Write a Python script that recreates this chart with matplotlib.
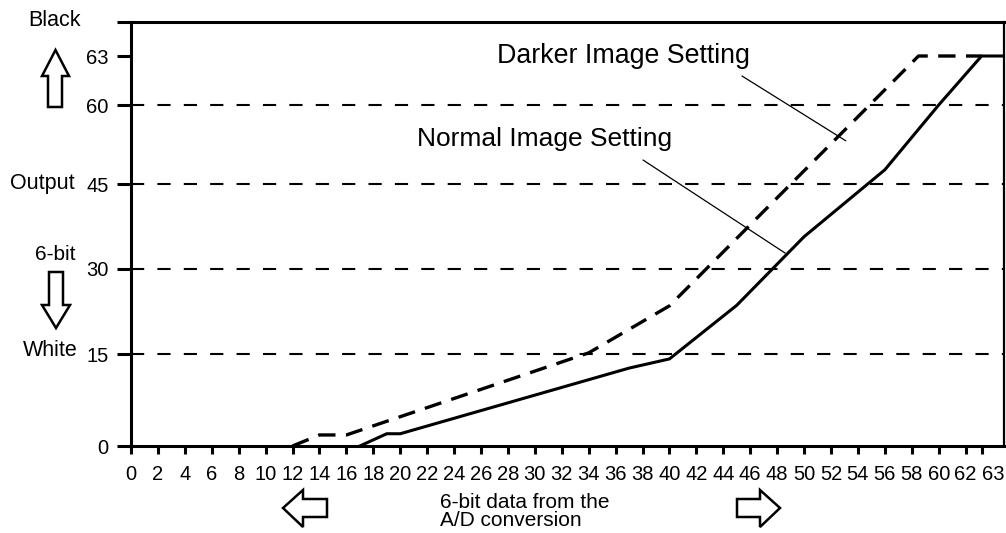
import matplotlib
matplotlib.use('Agg')
import matplotlib.pyplot as plt
import numpy as np
from matplotlib.patches import Polygon

plt.rcParams['font.family'] = ['Liberation Sans', 'DejaVu Sans']
plt.rcParams['lines.scale_dashes'] = False

# curve data (input code -> output code)
dark_x = [12, 14, 16, 34, 40, 58.5, 63]
dark_y = [0, 1.8, 1.8, 15.2, 23.5, 63, 63]
norm_x = [17, 19, 20, 37, 40, 45, 50, 56, 60, 63, 64.4]
norm_y = [0, 2, 2, 12.7, 14.2, 23.6, 35.7, 47.7, 60, 63, 63]

grid_levels = [15, 30, 45, 60]
x_ticks = list(range(0, 63, 2)) + [63]
y_ticks = [0, 15, 30, 45, 60, 63, 65.1]
y_labels = ['0', '15', '30', '45', '60', '63', '']

# the drawing is schematic: axes are piecewise linear
xv = [-100, 0, 62, 63, 100]
xs = [-1347, 0, 835, 851, 1443]
yv = [-100, 0, 15, 30, 45, 60, 63, 65.1, 100]
ys = [-613, 0, 92, 177, 262, 341, 390, 424, 983]

W, H = 1006, 533


def px(x, y):
    return x / W, 1 - y / H


fig = plt.figure(figsize=(W / 100, H / 100), dpi=100)
ax = fig.add_axes([131 / W, 87 / H, (1004 - 131) / W, 424 / H])
ax.set_xscale('function', functions=(lambda v: np.interp(v, xv, xs),
                                     lambda s: np.interp(s, xs, xv)))
ax.set_yscale('function', functions=(lambda v: np.interp(v, yv, ys),
                                     lambda s: np.interp(s, ys, yv)))
ax.set_xlim(0, 64.4)
ax.set_ylim(0, 65.1)

for lev in grid_levels:
    ax.axhline(lev, color='black', lw=1.5, dashes=(9.5, 9.5), zorder=1)

ax.plot(dark_x, dark_y, color='black', lw=2.4, dashes=(12.5, 7.5), zorder=3)
ax.plot(norm_x, norm_y, color='black', lw=2.2, zorder=3)

ax.set_xticks(x_ticks)
ax.set_xticklabels([str(t) for t in x_ticks])
ax.set_yticks(y_ticks)
ax.set_yticklabels(y_labels)
ax.xaxis.get_ticklabels()[-1].set_horizontalalignment('left')
ax.tick_params(axis='x', direction='out', length=6, width=2.2, pad=8,
               labelsize=14.5)
ax.tick_params(axis='y', direction='out', length=10, width=2.2, pad=6,
               labelsize=14.5)
for side in ['left', 'bottom', 'top']:
    ax.spines[side].set_linewidth(2.2)
ax.spines['right'].set_linewidth(1.6)

# pointer lines and labels
ax.annotate('', xy=(53.1, 53.2), xytext=px(742, 76),
            textcoords='figure fraction',
            arrowprops=dict(arrowstyle='-', lw=0.9, color='black',
                            shrinkA=0, shrinkB=0))
ax.annotate('', xy=(48.6, 32.8), xytext=px(643, 160),
            textcoords='figure fraction',
            arrowprops=dict(arrowstyle='-', lw=0.9, color='black',
                            shrinkA=0, shrinkB=0))
fig.text(*px(497, 63), 'Darker Image Setting', fontsize=19.3,
         ha='left', va='baseline')
fig.text(*px(417, 146), 'Normal Image Setting', fontsize=19,
         ha='left', va='baseline')

# side labels
fig.text(*px(54, 20), 'Black', fontsize=15.5, ha='center', va='center')
fig.text(*px(42, 183), 'Output', fontsize=15.5, ha='center', va='center')
fig.text(*px(55, 255), '6-bit', fontsize=15, ha='center', va='center')
fig.text(*px(50, 351), 'White', fontsize=15.5, ha='center', va='center')
fig.text(*px(440, 503), '6-bit data from the', fontsize=15,
         ha='left', va='center')
fig.text(*px(440, 521), 'A/D conversion', fontsize=15,
         ha='left', va='center')

# hollow arrows
arrows = [
    [(55.5, 50), (69, 76), (62, 76), (62, 107), (48, 107), (48, 76), (42, 76)],
    [(49, 272), (63, 272), (63, 305), (70, 305), (56, 328), (42, 305), (49, 305)],
    [(283, 508), (303, 490), (303, 499), (327, 499), (327, 517), (303, 517), (303, 527)],
    [(780, 508), (760, 490), (760, 499), (737, 499), (737, 517), (760, 517), (760, 527)],
]
for pts in arrows:
    poly = Polygon([px(a, b) for a, b in pts], closed=True, facecolor='white',
                   edgecolor='black', lw=1.8, transform=fig.transFigure)
    fig.add_artist(poly)

fig.savefig('out.png', dpi=100)
